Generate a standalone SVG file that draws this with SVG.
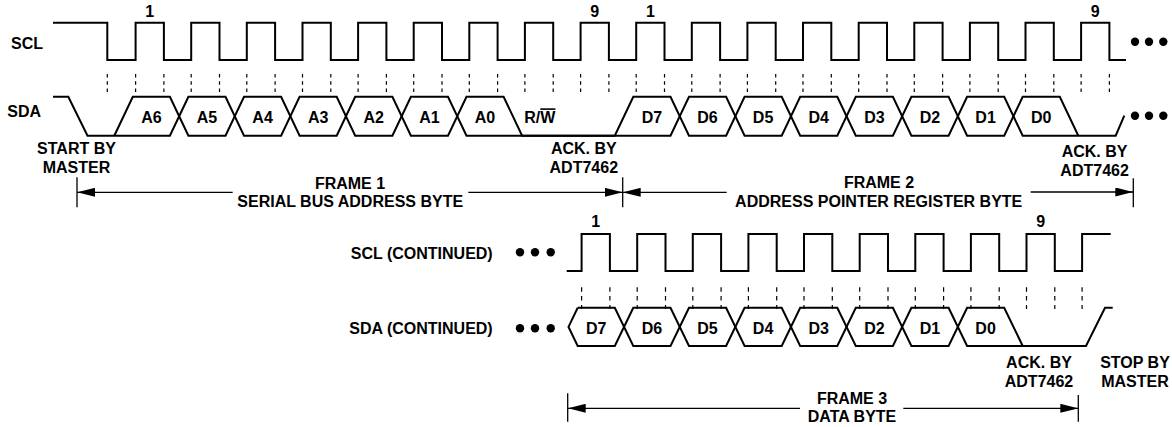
<svg xmlns="http://www.w3.org/2000/svg" width="1172" height="427" viewBox="0 0 1172 427">
<defs>
<style>
.sig{fill:none;stroke:#000;stroke-width:2;stroke-linejoin:miter}
.tick{fill:none;stroke:#000;stroke-width:1.2}
.tt{stroke-dasharray:3.6 3.6}
.tb{stroke-dasharray:4.4 4.4}
.arr{fill:none;stroke:#000;stroke-width:1.3}
.bar{fill:none;stroke:#000;stroke-width:1.3}
text{font-family:"Liberation Sans",Arial,Helvetica,sans-serif;font-weight:bold;font-size:16px;fill:#000}
.m{text-anchor:middle}
.e{text-anchor:end}
.dot{fill:#000}
</style>
<marker id="ah" viewBox="0 0 18 9" refX="18" refY="4.5" markerWidth="18" markerHeight="9" markerUnits="userSpaceOnUse" orient="auto">
<path d="M0,0L18,4.5L0,9z" fill="#000"/>
</marker>
</defs>
<rect width="1172" height="427" fill="#fff"/>

<g id="scl-top">
<path class="sig" d="M53,22.7H107.3V60H135.6V22.7H163.9V60H191.2V22.7H219.5V60H246.8V22.7H275.1V60H302.5V22.7H330.8V60H358.1V22.7H386.4V60H413.7V22.7H442V60H469.3V22.7H497.6V60H524.9V22.7H553.2V60H580.6V22.7H608.9V60H636.2V22.7H664.5V60H691.8V22.7H720.1V60H747.4V22.7H775.7V60H803V22.7H831.3V60H858.7V22.7H887V60H914.3V22.7H942.6V60H969.9V22.7H998.2V60H1025.5V22.7H1053.8V60H1081.1V22.7H1109.4V60H1126"/>
<circle class="dot" cx="1135" cy="41.7" r="4.2"/><circle class="dot" cx="1149" cy="41.7" r="4.2"/><circle class="dot" cx="1163.3" cy="41.7" r="4.2"/>
</g>

<g id="ticks-top">
<path class="tick tt" d="M107.3,74V92M135.6,74V92M163.9,74V92M191.2,74V92M219.5,74V92M246.8,74V92M275.1,74V92M302.5,74V92M330.8,74V92M358.1,74V92M386.4,74V92M413.7,74V92M442,74V92M469.3,74V92M497.6,74V92M524.9,74V92M553.2,74V92M580.6,74V92M608.9,74V92M636.2,74V92M664.5,74V92M691.8,74V92M720.1,74V92M747.4,74V92M775.7,74V92M803,74V92M831.3,74V92M858.7,74V92M887,74V92M914.3,74V92M942.6,74V92M969.9,74V92M998.2,74V92M1025.5,74V92M1053.8,74V92M1081.1,74V92M1109.4,74V92"/>
</g>

<g id="sda-top">
<path class="sig" d="M53,96.7H68.3L87.5,135.7H169.9L188.4,96.7H225.5L244,135.7H281.1L299.6,96.7H336.7L355.2,135.7H392.4L410.9,96.7H448L466.5,135.7H614.8L633.3,96.7H670.5L689,135.7H726.1L744.6,96.7H781.7L800.2,135.7H837.3L855.8,96.7H892.9L911.4,135.7H948.6L967.1,96.7H1004.2L1022.7,135.7H1115.7L1124.3,115.7"/>
<path class="sig" d="M114.3,135.7L132.8,96.7H169.9L188.4,135.7H225.5L244,96.7H281.1L299.6,135.7H336.7L355.2,96.7H392.4L410.9,135.7H448L466.5,96.7H503.6L522.1,135.7H670.5L689,96.7H726.1L744.6,135.7H781.7L800.2,96.7H837.3L855.8,135.7H892.9L911.4,96.7H948.6L967.1,135.7H1004.2L1022.7,96.7H1059.8L1078.3,135.7"/>
<circle class="dot" cx="1135" cy="115.7" r="4.2"/><circle class="dot" cx="1149" cy="115.7" r="4.2"/><circle class="dot" cx="1163.3" cy="115.7" r="4.2"/>
</g>

<g id="labels-top">
<text x="11" y="49">SCL</text>
<text x="7.3" y="117.3">SDA</text>
<text class="m" x="149.8" y="16.7">1</text>
<text class="m" x="594.8" y="16.7">9</text>
<text class="m" x="650.4" y="16.7">1</text>
<text class="m" x="1095.3" y="16.7">9</text>
<text class="m" x="151.5" y="122.5">A6</text>
<text class="m" x="206.9" y="122.5">A5</text>
<text class="m" x="262.6" y="122.5">A4</text>
<text class="m" x="318.2" y="122.5">A3</text>
<text class="m" x="373.8" y="122.5">A2</text>
<text class="m" x="429.4" y="122.5">A1</text>
<text class="m" x="485" y="122.5">A0</text>
<text x="524.3" y="123.3">R/<tspan text-decoration="overline">W</tspan></text>
<text class="m" x="651.9" y="122.5">D7</text>
<text class="m" x="707.5" y="122.5">D6</text>
<text class="m" x="763.1" y="122.5">D5</text>
<text class="m" x="818.8" y="122.5">D4</text>
<text class="m" x="874.4" y="122.5">D3</text>
<text class="m" x="930" y="122.5">D2</text>
<text class="m" x="985.6" y="122.5">D1</text>
<text class="m" x="1041.2" y="122.5">D0</text>
<text class="m" x="76.5" y="154">START BY</text>
<text class="m" x="76.5" y="173.3">MASTER</text>
<text class="m" x="583.8" y="154">ACK. BY</text>
<text class="m" x="583.8" y="173.3">ADT7462</text>
<text class="m" x="1094.6" y="157.3">ACK. BY</text>
<text class="m" x="1094.6" y="176">ADT7462</text>
<text class="m" x="350" y="189">FRAME 1</text>
<text class="m" x="350.2" y="206.7">SERIAL BUS ADDRESS BYTE</text>
<text class="m" x="879" y="188.3">FRAME 2</text>
<text class="m" x="878.7" y="207.3">ADDRESS POINTER REGISTER BYTE</text>
</g>

<g id="scl-bottom">
<path class="sig" d="M566.7,271H581.6V234H609.9V271H637.2V234H665.5V271H692.8V234H721.1V271H748.4V234H776.7V271H804V234H832.3V271H859.7V234H888V271H915.3V234H943.6V271H970.9V234H999.2V271H1026.5V234H1054.8V271H1082.1V234H1110.7"/>
<circle class="dot" cx="520" cy="252.3" r="4.2"/><circle class="dot" cx="535" cy="252.3" r="4.2"/><circle class="dot" cx="550.7" cy="252.3" r="4.2"/>
</g>

<g id="ticks-bottom">
<path class="tick tb" d="M581.6,287.3V309M609.9,287.3V309M637.2,287.3V309M665.5,287.3V309M692.8,287.3V309M721.1,287.3V309M748.4,287.3V309M776.7,287.3V309M804,287.3V309M832.3,287.3V309M859.7,287.3V309M888,287.3V309M915.3,287.3V309M943.6,287.3V309M970.9,287.3V309M999.2,287.3V309M1026.5,287.3V309M1054.8,287.3V309M1082.1,287.3V309"/>
</g>

<g id="sda-bottom">
<path class="sig" d="M577.7,307.7L568.5,326.9L577.7,346H614.8L633.3,307.7H670.5L689,346H726.1L744.6,307.7H781.7L800.2,346H837.3L855.8,307.7H892.9L911.4,346H948.6L967.1,307.7H1004.2L1022.7,346H1086L1105,307.7H1112.7"/>
<path class="sig" d="M577.7,307.7H614.8L633.3,346H670.5L689,307.7H726.1L744.6,346H781.7L800.2,307.7H837.3L855.8,346H892.9L911.4,307.7H948.6L967.1,346H1022.7"/>
<circle class="dot" cx="520" cy="328.3" r="4.2"/><circle class="dot" cx="535" cy="328.3" r="4.2"/><circle class="dot" cx="550.7" cy="328.3" r="4.2"/>
</g>

<g id="labels-bottom">
<text class="e" x="492.7" y="259.3">SCL (CONTINUED)</text>
<text class="e" x="492.7" y="334">SDA (CONTINUED)</text>
<text class="m" x="595.8" y="226.7">1</text>
<text class="m" x="1040.6" y="226.7">9</text>
<text class="m" x="596.3" y="334">D7</text>
<text class="m" x="651.9" y="334">D6</text>
<text class="m" x="707.5" y="334">D5</text>
<text class="m" x="763.1" y="334">D4</text>
<text class="m" x="818.8" y="334">D3</text>
<text class="m" x="874.4" y="334">D2</text>
<text class="m" x="930" y="334">D1</text>
<text class="m" x="985.6" y="334">D0</text>
<text class="m" x="1039" y="368.3">ACK. BY</text>
<text class="m" x="1039" y="387.3">ADT7462</text>
<text class="m" x="1135" y="368.3">STOP BY</text>
<text class="m" x="1135" y="387.3">MASTER</text>
<text class="m" x="852" y="404">FRAME 3</text>
<text class="m" x="852" y="421.7">DATA BYTE</text>
</g>

<g id="connectors">
<path class="bar" d="M77,177.3V207.3M622.7,177.3V207.3M1133.3,178.3V207.3M567.7,393.3V421.7M1078.3,395V421.7"/>
<line class="arr" x1="232.7" y1="192.3" x2="77" y2="192.3" marker-end="url(#ah)"/>
<line class="arr" x1="468.3" y1="192.3" x2="622.7" y2="192.3" marker-end="url(#ah)"/>
<line class="arr" x1="726.7" y1="192.3" x2="622.7" y2="192.3" marker-end="url(#ah)"/>
<line class="arr" x1="1030.7" y1="192" x2="1133.3" y2="192" marker-end="url(#ah)"/>
<line class="arr" x1="800" y1="408.3" x2="567.7" y2="408.3" marker-end="url(#ah)"/>
<line class="arr" x1="903.3" y1="408.3" x2="1078.3" y2="408.3" marker-end="url(#ah)"/>
</g>
</svg>
